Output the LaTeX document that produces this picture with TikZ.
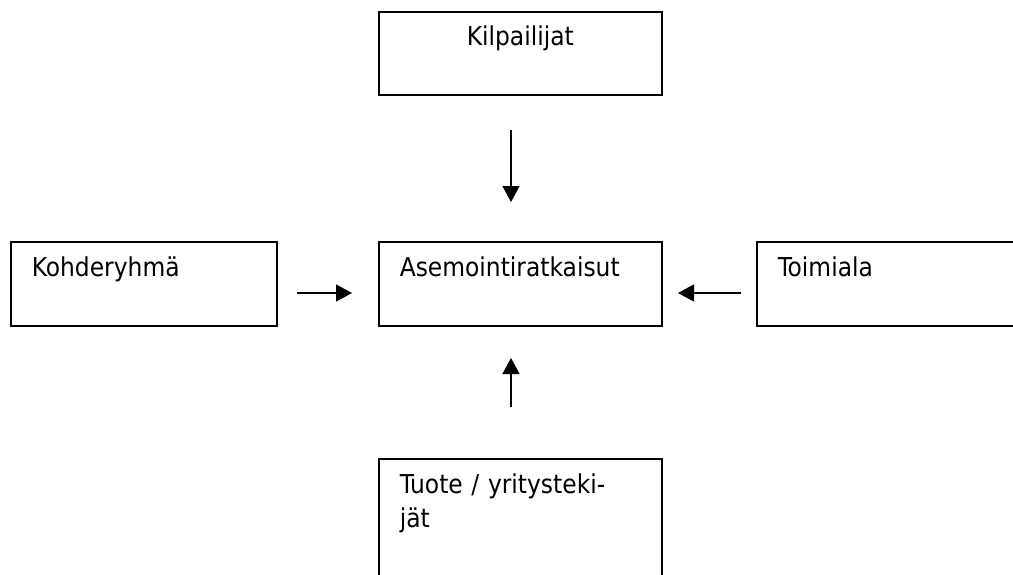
\documentclass[tikz,border=0pt]{standalone}
\usepackage{fontspec}
\setmainfont{DejaVu Sans Condensed}
\usetikzlibrary{arrows.meta}
\tikzset{
  box/.style={draw, line width=1.6pt, anchor=north west, inner ysep=0pt, inner xsep=21pt,
    align=left, font=\fontsize{26}{34}\selectfont, text height=35pt},
  arr/.style={line width=1.5pt, -{Triangle[length=16pt,width=17pt]}}
}
\begin{document}
\begin{tikzpicture}[x=1pt,y=-1pt]
\useasboundingbox (0,0) rectangle (1013,574);
\node[box, align=center, text width=241pt, text height=34pt, text depth=49pt] (kil) at (378,11) {Kilpailijat};
\node[box, text width=224pt, text depth=49pt] (koh) at (10,241) {Kohderyhmä};
\node[box, text width=241pt, text depth=49pt] (ase) at (378,241) {Asemointiratkaisut};
\node[box, text width=232pt, text depth=49pt] (toi) at (756,241) {Toimiala};
\node[box, text width=241pt, text depth=110pt] (tuo) at (378,458) {Tuote / yritysteki-\\jät};
\coordinate (d1) at (511,130); \coordinate (d2) at (511,202);
\coordinate (r1) at (297,293); \coordinate (r2) at (352,293);
\coordinate (l1) at (741,293); \coordinate (l2) at (678,293);
\coordinate (u1) at (511,407); \coordinate (u2) at (511,358);
\draw[arr] (d1) -- (d2);
\draw[arr] (r1) -- (r2);
\draw[arr] (l1) -- (l2);
\draw[arr] (u1) -- (u2);
\end{tikzpicture}
\end{document}
